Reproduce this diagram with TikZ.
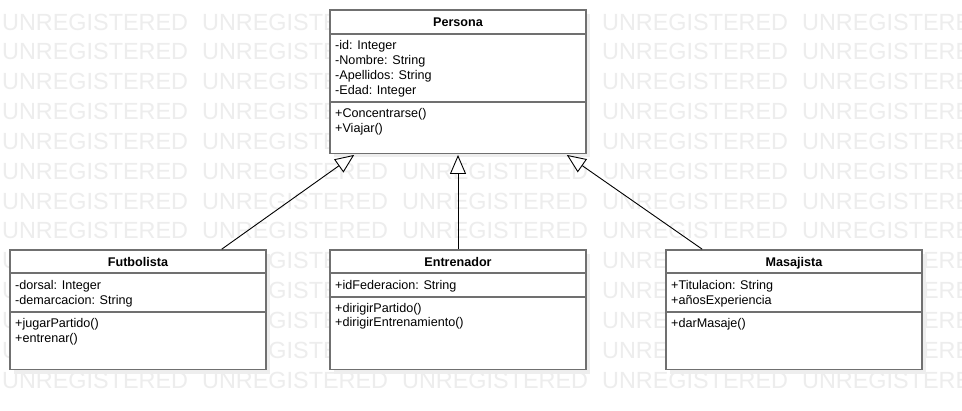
\documentclass[tikz,border=0pt]{standalone}
\usepackage{fontspec}
\setmainfont{Liberation Sans}
\usetikzlibrary{arrows.meta,calc}
\definecolor{wm}{RGB}{237,237,237}
\definecolor{boxline}{RGB}{112,112,112}
\definecolor{shadowc}{RGB}{238,238,238}
\tikzset{
  box/.style={draw=boxline, line width=1.6pt, fill=white, rectangle, inner sep=0pt},
  shadowbox/.style={fill=shadowc, draw=none, rectangle, inner sep=0pt},
  divider/.style={draw=boxline, line width=1.6pt},
  txt/.style={anchor=base west, inner sep=0pt, font=\fontsize{12.6}{14}\selectfont},
  hdr/.style={anchor=base, inner sep=0pt, font=\fontsize{12.6}{14}\selectfont\bfseries},
  wmtext/.style={anchor=base west, inner sep=0pt, text=wm, font=\fontsize{23.4}{26}\selectfont},
  inherit/.style={draw=black, line width=0.9pt, -{Triangle[length=19pt,width=16pt,fill=white,line width=0.9pt]}}
}
\begin{document}
\begin{tikzpicture}[x=1pt,y=-1pt]
\useasboundingbox (0,0) rectangle (962,410);
\fill[white] (0,0) rectangle (962,410);
\begin{scope}
\clip (0,0) rectangle (962,410);
\foreach \r in {0,...,12}{
  \foreach \c in {0,...,4}{
    \node[wmtext] at ({2+200*\c},{30+29.85*\r}) {UNREGISTERED};
  }
}
\end{scope}
% shadows
\node[shadowbox, minimum width=256pt, minimum height=143.3pt] (shP) at (462,85.65) {};
\node[shadowbox, minimum width=256pt, minimum height=119.5pt] (shF) at (142,313.75) {};
\node[shadowbox, minimum width=256pt, minimum height=119.5pt] (shE) at (462,313.75) {};
\node[shadowbox, minimum width=256pt, minimum height=119.5pt] (shM) at (798,313.75) {};
% boxes
\node[box, minimum width=256pt, minimum height=143.3pt] (persona) at (458,81.65) {};
\node[box, minimum width=256pt, minimum height=119.5pt] (futbolista) at (138,309.75) {};
\node[box, minimum width=256pt, minimum height=119.5pt] (entrenador) at (458,309.75) {};
\node[box, minimum width=256pt, minimum height=119.5pt] (masajista) at (794,309.75) {};
% dividers
\draw[divider] ($(persona.north west)+(0,24.5)$) -- ($(persona.north east)+(0,24.5)$);
\draw[divider] ($(persona.north west)+(0,93)$) -- ($(persona.north east)+(0,93)$);
\draw[divider] ($(futbolista.north west)+(0,24)$) -- ($(futbolista.north east)+(0,24)$);
\draw[divider] ($(futbolista.north west)+(0,63)$) -- ($(futbolista.north east)+(0,63)$);
\draw[divider] ($(entrenador.north west)+(0,24)$) -- ($(entrenador.north east)+(0,24)$);
\draw[divider] ($(entrenador.north west)+(0,47.5)$) -- ($(entrenador.north east)+(0,47.5)$);
\draw[divider] ($(masajista.north west)+(0,24)$) -- ($(masajista.north east)+(0,24)$);
\draw[divider] ($(masajista.north west)+(0,63)$) -- ($(masajista.north east)+(0,63)$);
% Persona texts
\node[hdr] (pH) at (458,26.7) {Persona};
\node[txt] (pA1) at (335,49) {-id: Integer};
\node[txt] (pA2) at (335,64) {-Nombre: String};
\node[txt] (pA3) at (335,79) {-Apellidos: String};
\node[txt] (pA4) at (335,94) {-Edad: Integer};
\node[txt] (pM1) at (335,117.5) {+Concentrarse()};
\node[txt] (pM2) at (335,132) {+Viajar()};
% Futbolista texts
\node[hdr] (fH) at (138,266.5) {Futbolista};
\node[txt] (fA1) at (15,289) {-dorsal: Integer};
\node[txt] (fA2) at (15,304) {-demarcacion: String};
\node[txt] (fM1) at (15,327.5) {+jugarPartido()};
\node[txt] (fM2) at (15,342) {+entrenar()};
% Entrenador texts
\node[hdr] (eH) at (458,266.5) {Entrenador};
\node[txt] (eA1) at (335,289) {+idFederacion: String};
\node[txt] (eM1) at (335,312) {+dirigirPartido()};
\node[txt] (eM2) at (335,326.5) {+dirigirEntrenamiento()};
% Masajista texts
\node[hdr] (mH) at (794,266.5) {Masajista};
\node[txt] (mA1) at (671,289) {+Titulacion: String};
\node[txt] (mA2) at (671,304) {+añosExperiencia};
\node[txt] (mM1) at (671,327.5) {+darMasaje()};
% connectors
\coordinate (tF) at ($(persona.south west)+(25,0.8)$);
\coordinate (sF) at ($(futbolista.north west)+(212.5,0)$);
\coordinate (tE) at ($(persona.south)+(0,0.8)$);
\coordinate (sE) at (entrenador.north);
\coordinate (tM) at ($(persona.south east)+(-20,0.8)$);
\coordinate (sM) at ($(masajista.north west)+(37,0)$);
\draw[inherit] (sF) -- (tF);
\draw[inherit] (sE) -- (tE);
\draw[inherit] (sM) -- (tM);
\end{tikzpicture}
\end{document}
